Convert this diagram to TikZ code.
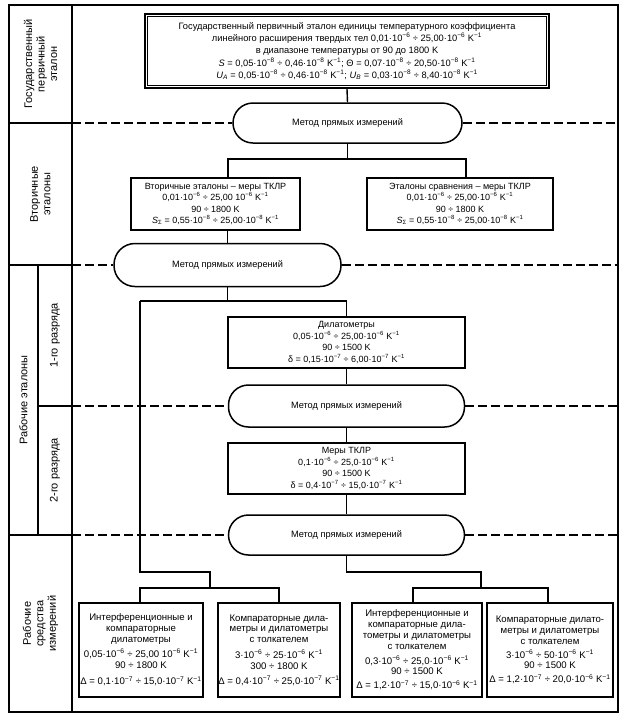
\documentclass[tikz,border=0pt]{standalone}
\usepackage{fontspec}
\setmainfont{Liberation Sans}
\newcommand\pw[1]{\textsuperscript{−#1}}
\tikzset{
  frame/.style={line width=1.5pt},
  sep/.style={line width=1.5pt, dash pattern=on 9pt off 4pt},
  conn/.style={line width=1.4pt},
  oval/.style={draw, line width=1.5pt, rounded corners=20pt, minimum width=236pt, minimum height=41pt, inner sep=0pt, font=\fontsize{9.2}{11}\selectfont},
  box/.style={draw, line width=1.4pt, align=center, inner sep=0pt, minimum height=52pt, font=\fontsize{9}{11.5}\selectfont},
  bbox/.style={draw, line width=2pt, align=center, inner sep=0pt, minimum height=94pt, font=\fontsize{9.6}{10.8}\selectfont},
  lab/.style={rotate=90, align=center, font=\fontsize{11}{12.5}\selectfont},
}
\begin{document}
\begin{tikzpicture}[x=1pt,y=-1pt]
\useasboundingbox (0,0) rectangle (630,716);
% frame
\coordinate (TL) at (9,5);
\coordinate (BR) at (618,712);
\draw[frame] (TL) rectangle (BR);
\draw[frame] (72,5) -- (72,712);
\draw[frame] (38,265) -- (38,535);
\draw[frame] (9,123) -- (72,123);
\draw[frame] (9,265) -- (72,265);
\draw[frame] (38,406) -- (72,406);
\draw[frame] (9,535) -- (72,535);
% row labels
\node[lab] (l1) at (40.5,64) {Государственный\\первичный\\эталон};
\node[lab] (l2) at (40.5,194) {Вторичные\\эталоны};
\node[lab] (l3) at (23.5,400) {Рабочие эталоны};
\node[lab] (l4) at (55,335.5) {1-го разряда};
\node[lab] (l5) at (55,470.5) {2-го разряда};
\node[lab] (l6) at (40.5,623.5) {Рабочие\\средства\\измерений};
% top box
\node[draw, line width=2.2pt, minimum width=404pt, minimum height=74pt, inner sep=0pt, align=center, font=\fontsize{9.3}{12.3}\selectfont] (top) at (347,51)
 {Государственный первичный эталон единицы температурного коэффициента\\
  линейного расширения твердых тел 0,01·10\pw{6} ÷ 25,00·10\pw{6} K\pw{1}\\
  в диапазоне температуры от 90 до 1800 K\\
  \textit{S} = 0,05·10\pw{8} ÷ 0,46·10\pw{8} K\pw{1}; Θ = 0,07·10\pw{8} ÷ 20,50·10\pw{8} K\pw{1}\\
  \textit{U}\textsubscript{\textit{A}} = 0,05·10\pw{8} ÷ 0,46·10\pw{8} K\pw{1}; \textit{U}\textsubscript{\textit{B}} = 0,03·10\pw{8} ÷ 8,40·10\pw{8} K\pw{1}};
\draw[line width=0.9pt] ([shift={(3.6pt,-3.6pt)}]top.north west) rectangle ([shift={(-3.6pt,3.6pt)}]top.south east);
% ovals
\node[oval, minimum width=229pt, minimum height=40pt] (o1) at (347.5,123) {Метод прямых измерений};
\node[oval, minimum width=227pt, minimum height=43pt, rounded corners=21pt] (o2) at (227.5,265) {Метод прямых измерений};
\node[oval, minimum height=42pt] (o3) at (346.5,406) {Метод прямых измерений};
\node[oval, minimum height=40pt] (o4) at (346.5,535) {Метод прямых измерений};
% secondary
\node[box, minimum width=169pt] (bl) at (215.5,204)
 {Вторичные эталоны – меры ТКЛР\\0,01·10\pw{6} ÷ 25,00 10\pw{6} K\pw{1}\\90 ÷ 1800 K\\\textit{S}\textsubscript{Σ} = 0,55·10\pw{8} ÷ 25,00·10\pw{8} K\pw{1}};
\node[box, minimum width=186pt] (br) at (460,204)
 {Эталоны сравнения – меры ТКЛР\\0,01·10\pw{6} ÷ 25,00·10\pw{6} K\pw{1}\\90 ÷ 1800 K\\\textit{S}\textsubscript{Σ} = 0,55·10\pw{8} ÷ 25,00·10\pw{8} K\pw{1}};
\node[box, minimum width=237pt, minimum height=51pt] (dil) at (346.5,342.5)
 {Дилатометры\\0,05·10\pw{6} ÷ 25,00·10\pw{6} K\pw{1}\\90 ÷ 1500 K\\δ = 0,15·10\pw{7} ÷ 6,00·10\pw{7} K\pw{1}};
\node[box, minimum width=237pt, minimum height=51pt] (mer) at (346.5,468.5)
 {Меры ТКЛР\\0,1·10\pw{6} ÷ 25,0·10\pw{6} K\pw{1}\\90 ÷ 1500 K\\δ = 0,4·10\pw{7} ÷ 15,0·10\pw{7} K\pw{1}};
% bottom boxes
\node[bbox, minimum width=124pt] (b1) at (141,650)
 {Интерференционные и\\компараторные\\дилатометры\\[4pt]0,05·10\pw{6} ÷ 25,00 10\pw{6} K\pw{1}\\90 ÷ 1800 K\\[6pt]Δ = 0,1·10\pw{7} ÷ 15,0·10\pw{7} K\pw{1}};
\node[bbox, minimum width=122pt] (b2) at (279,650)
 {Компараторные дила-\\метры и дилатометры\\с толкателем\\[5pt]3·10\pw{6} ÷ 25·10\pw{6} K\pw{1}\\300 ÷ 1800 K\\[4pt]Δ = 0,4·10\pw{7} ÷ 25,0·10\pw{7} K\pw{1}};
\node[bbox, minimum width=130pt] (b3) at (417,650)
 {Интерференционные и\\компараторные дила-\\тометры и дилатометры\\с толкателем\\[4pt]0,3·10\pw{6} ÷ 25,0·10\pw{6} K\pw{1}\\90 ÷ 1500 K\\[3pt]Δ = 1,2·10\pw{7} ÷ 15,0·10\pw{6} K\pw{1}};
\node[bbox, minimum width=126pt] (b4) at (550,650)
 {Компараторные дилато-\\метры и дилатометры\\с толкателем\\[3pt]3·10\pw{6} ÷ 50·10\pw{6} K\pw{1}\\90 ÷ 1500 K\\[3pt]Δ = 1,2·10\pw{7} ÷ 20,0·10\pw{6} K\pw{1}};
% dashed separators
\coordinate (r1) at (618,123);
\coordinate (r2) at (618,265);
\coordinate (r3) at (618,406);
\coordinate (r4) at (618,535);
\draw[sep] (72,123) -- (o1.west);  \draw[sep] (o1.east) -- (r1);
\draw[sep] (72,265) -- (o2.west);  \draw[sep] (o2.east) -- (r2);
\draw[sep] (72,406) -- (o3.west);  \draw[sep] (o3.east) -- (r3);
\draw[sep] (72,535) -- (o4.west);  \draw[sep] (o4.east) -- (r4);
% connectors
\draw[conn] (top.south) -- (o1.north);
\coordinate (j0) at (347.5,159);
\coordinate (jl) at (228,159);
\coordinate (jr) at (466,159);
\draw[conn] (o1.south) -- (j0);
\draw[conn] (jl |- bl.north) -- (jl) -- (jr) -- (jr |- br.north);
\draw[conn] (o2.north |- bl.south) -- (o2.north);
\coordinate (k1) at (140,301);
\coordinate (k2) at (346.5,301);
\draw[conn] (o2.south) -- (o2.south |- k1);
\draw[conn] (dil.north) -- (k2) -- (k1);
\coordinate (m1) at (140,572);
\coordinate (m2) at (210,572);
\coordinate (m3) at (210,588);
\draw[conn] (k1) -- (m1) -- (m2) -- (m3);
\coordinate (n1) at (140,588);
\coordinate (n2) at (279,588);
\draw[conn] (n1 |- b1.north) -- (n1) -- (n2) -- (n2 |- b2.north);
\draw[conn] (dil.south) -- (o3.north);
\draw[conn] (o3.south) -- (mer.north);
\draw[conn] (mer.south) -- (o4.north);
\coordinate (p1) at (346.5,572);
\coordinate (p2) at (481,572);
\coordinate (p3) at (481,588);
\draw[conn] (o4.south) -- (p1) -- (p2) -- (p3);
\coordinate (q1) at (413,588);
\coordinate (q2) at (548,588);
\draw[conn] (q1 |- b3.north) -- (q1) -- (q2) -- (q2 |- b4.north);
\end{tikzpicture}
\end{document}
